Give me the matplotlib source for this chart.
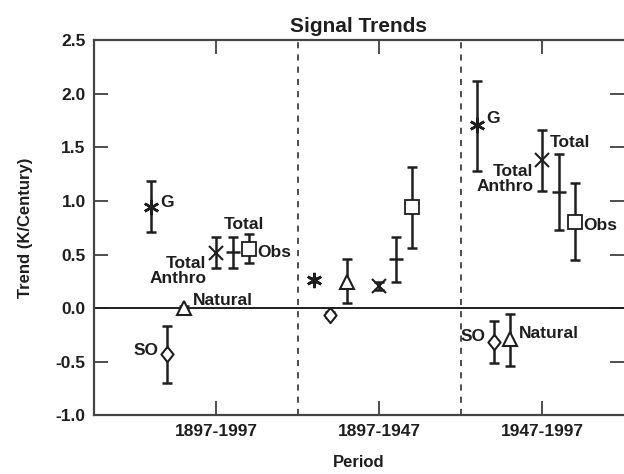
import matplotlib
matplotlib.use("Agg")
import matplotlib.pyplot as plt
import numpy as np

INK = "#1e1e1e"
plt.rcParams.update({"font.family": ["Liberation Sans Narrow", "Liberation Sans", "DejaVu Sans"],
                     "font.weight": "bold", "font.size": 12})

periods = ["1897-1997", "1897-1947", "1947-1997"]
signals = ["G", "SO", "Natural", "Total Anthro", "Total", "Obs"]

g_val = [0.94, 0.26, 1.71]
g_lo = [0.71, 0.24, 1.28]
g_hi = [1.19, 0.28, 2.12]
so_val = [-0.43, -0.06, -0.32]
so_lo = [-0.70, -0.08, -0.515]
so_hi = [-0.165, -0.04, -0.12]
nat_val = [0.00, 0.245, -0.29]
nat_lo = [-0.02, 0.044, -0.54]
nat_hi = [0.02, 0.455, -0.056]
ta_val = [0.51, 0.205, 1.38]
ta_lo = [0.37, 0.17, 1.09]
ta_hi = [0.66, 0.24, 1.66]
tot_val = [0.52, 0.455, 1.08]
tot_lo = [0.375, 0.24, 0.73]
tot_hi = [0.66, 0.665, 1.44]
obs_val = [0.55, 0.94, 0.80]
obs_lo = [0.42, 0.56, 0.45]
obs_hi = [0.69, 1.315, 1.17]

series = {
    "G": (g_val, g_lo, g_hi),
    "SO": (so_val, so_lo, so_hi),
    "Natural": (nat_val, nat_lo, nat_hi),
    "Total Anthro": (ta_val, ta_lo, ta_hi),
    "Total": (tot_val, tot_lo, tot_hi),
    "Obs": (obs_val, obs_lo, obs_hi),
}

diamond = [(0, 1), (0.8, 0), (0, -1), (-0.8, 0), (0, 1)]
# x offset inside each period, marker style
style = {
    "G": (-0.4, dict(marker=(6, 2, 0), ms=11, mew=1.8)),
    "SO": (-0.3, dict(marker=diamond, ms=11, mfc="white", mew=1.5)),
    "Natural": (-0.2, dict(marker="^", ms=10, mfc="white", mew=1.5)),
    "Total Anthro": (0.0, dict(marker="x", ms=10, mew=1.5)),
    "Total": (0.1, dict(marker="_", ms=10, mew=1.8)),
    "Obs": (0.2, dict(marker="s", ms=10, mfc="white", mew=1.3)),
}

# labels: (period index, signal, text, offset points, ha)
labels = [
    (0, "G", "G", (6.5, 3.6), "left"),
    (0, "SO", "SO", (-6.5, 2.9), "right"),
    (0, "Natural", "Natural", (6.3, 5.3), "left"),
    (0, "Total Anthro", "Total\nAnthro", (-7.2, -12.8), "right"),
    (0, "Total", "Total", (8.1, 20), "center"),
    (0, "Obs", "Obs", (6.3, -2.7), "left"),
    (2, "G", "G", (6.3, 4.3), "left"),
    (2, "SO", "SO", (-6.0, 4.1), "right"),
    (2, "Natural", "Natural", (6.7, 4.5), "left"),
    (2, "Total Anthro", "Total\nAnthro", (-6.5, -13.4), "right"),
    (2, "Total", "Total", (7.8, 36), "center"),
    (2, "Obs", "Obs", (6.0, -2.4), "left"),
]

fig = plt.figure(figsize=(6.24, 4.74), dpi=100)
ax = fig.add_axes([0.1506, 0.1236, 0.8494, 0.792])

xc = np.arange(1, len(periods) + 1)
for name in signals:
    val, lo, hi = (np.array(a) for a in series[name])
    off, kw = style[name]
    ax.errorbar(xc + off, val, yerr=[val - lo, hi - val], fmt="none", ecolor=INK,
                elinewidth=1.8, capsize=3.5, capthick=1.8, zorder=3)
    ax.plot(xc + off, val, ls="none", color=INK, mec=INK, zorder=4, **kw)

for p, name, txt, (dx, dy), ha in labels:
    off, _ = style[name]
    ax.annotate(txt, (xc[p] + off, series[name][0][p]), xytext=(dx, dy),
                textcoords="offset points", ha=ha, va="center", fontsize=12.5,
                color=INK, linespacing=1.0, multialignment=ha)

ax.axhline(0, color=INK, lw=1.4, zorder=2)
for xv in [1.5, 2.5]:
    ax.axvline(xv, color=INK, lw=1.1, ls=(0, (4, 4)), zorder=1)

ax.set_xlim(0.25, 3.5)
ax.set_ylim(-1.0, 2.5)
ax.set_xticks(xc)
ax.set_xticklabels(periods)
ax.set_yticks(np.arange(-1.0, 2.51, 0.5))
ax.set_yticklabels([f"{v:.1f}" for v in np.arange(-1.0, 2.51, 0.5)])
ax.tick_params(direction="in", length=10, width=1.1, top=True, right=True,
               labelsize=12.5, colors=INK, pad=6)
for s in ax.spines.values():
    s.set_color("#444444")
    s.set_linewidth(1.6)
ax.spines["right"].set_visible(False)

ax.set_title("Signal Trends", fontsize=15, fontweight="bold", color=INK, pad=6)
ax.set_xlabel("Period", fontsize=12, fontweight="bold", color=INK, labelpad=12)
ax.set_ylabel("Trend (K/Century)", fontsize=12, fontweight="bold", color=INK, labelpad=16)

fig.savefig("out.png", dpi=100)
